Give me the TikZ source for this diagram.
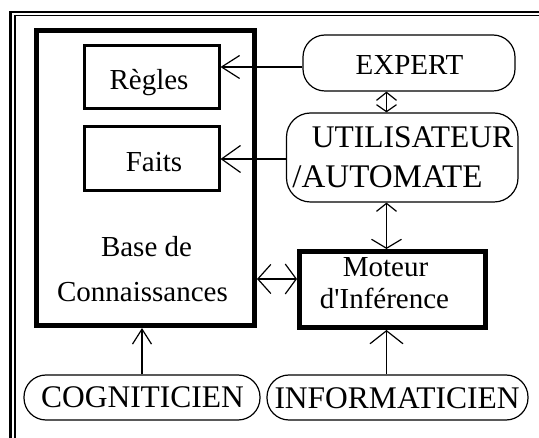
\documentclass[tikz,border=0pt]{standalone}
\usepackage{fontspec}
\setmainfont{Liberation Serif}
\usetikzlibrary{arrows.meta}
\begin{document}
\begin{tikzpicture}[x=1pt,y=-1pt,
  bigbox/.style={draw,line width=5pt,inner sep=0pt},
  smallbox/.style={draw,line width=3pt,inner sep=0pt},
  actor/.style={draw,line width=1.2pt,inner sep=0pt},
  lbl/.style={anchor=base,inner sep=0pt,font=\fontsize{29}{29}\selectfont},
  caps/.style={anchor=base,inner sep=0pt,font=\fontsize{31.5}{31.5}\selectfont},
  conn/.style={line width=1.2pt}]
\useasboundingbox (0,0) rectangle (539,438);
\fill[white] (0,0) rectangle (539,438);
% frame (top and left double line)
\draw[line width=2.6pt] (10.7,438) -- (10.7,12.2) -- (539,12.2);
\draw[line width=1.4pt] (14.8,438) -- (14.8,15.7) -- (539,15.7);
% boxes
\node[bigbox,minimum width=218pt,minimum height=294.5pt] (base) at (145.5,178.25) {};
\node[smallbox,minimum width=134.5pt,minimum height=63pt] (regles) at (151.75,77.5) {};
\node[smallbox,minimum width=134.5pt,minimum height=64pt] (faits) at (151.75,159) {};
\node[bigbox,minimum width=186pt,minimum height=76pt] (moteur) at (392.5,289.5) {};
\node[actor,rounded corners=22pt,minimum width=212pt,minimum height=56pt] (expert) at (409,63) {};
\node[actor,rounded corners=24pt,minimum width=231.5pt,minimum height=89pt] (util) at (402.25,157.5) {};
\node[actor,rounded corners=22pt,minimum width=236pt,minimum height=45pt] (cogn) at (142,397.5) {};
\node[actor,rounded corners=22pt,minimum width=261pt,minimum height=45pt] (info) at (397.5,397.5) {};
% texts
\node[lbl] (tregles) at (149,90) {Règles};
\node[lbl] (tfaits) at (154,172) {Faits};
\node[lbl] (tbase1) at (146.5,257) {Base de};
\node[lbl] (tbase2) at (142.5,302) {Connaissances};
\node[lbl] (tmot1) at (385.5,277) {Moteur};
\node[lbl] (tmot2) at (384.5,309) {d\textquotesingle Inférence};
\node[lbl] (texp) at (409.5,75) {EXPERT};
\node[caps] (tu1) at (412.5,148) {UTILISATEUR};
\node[caps,font=\fontsize{33}{33}\selectfont] (tu2) at (387.5,188) {/AUTOMATE};
\node[caps] (tcogn) at (142.5,408) {COGNITICIEN};
\node[caps] (tinfo) at (397,409) {INFORMATICIEN};
% connectors
\coordinate (colx) at (386.5,0);
\coordinate (rowy) at (0,279);
\coordinate (rowe) at (0,67);
\draw[conn,-{Straight Barb[length=18pt,width=23pt]}] (expert.west |- rowe) -- (regles.east |- rowe);
\draw[conn,-{Straight Barb[length=19pt,width=27pt]}] (util.west |- faits.east) -- (faits.east);
\draw[conn,{Straight Barb[length=13pt,width=29pt]}-{Straight Barb[length=11pt,width=30pt]}] (base.east |- rowy) -- (moteur.west |- rowy);
\draw[conn,{Straight Barb[length=8pt,width=20pt]}-{Straight Barb[length=7pt,width=20pt]}] (expert.south -| colx) -- (util.north -| colx);
\draw[conn,{Straight Barb[length=8pt,width=20pt]}-{Straight Barb[length=9pt,width=30pt]}] (util.south -| colx) -- (moteur.north -| colx);
\draw[conn,-{Straight Barb[length=13pt,width=33pt]}] (info.north -| colx) -- (moteur.south -| colx);
\draw[conn,-{Straight Barb[length=15pt,width=19pt]}] (cogn.north) -- (cogn.north |- base.south);
\end{tikzpicture}
\end{document}
